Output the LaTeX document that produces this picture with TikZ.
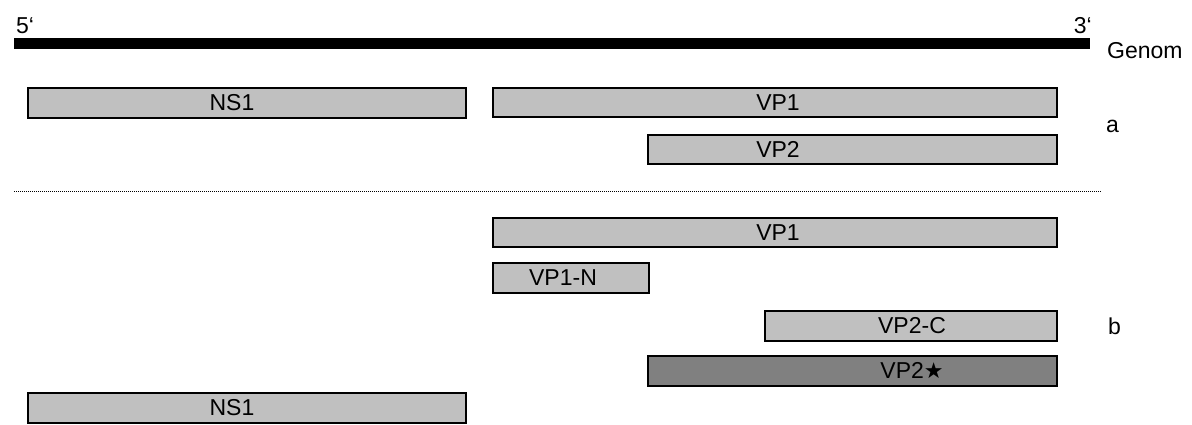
\documentclass[tikz,border=0pt]{standalone}
\usepackage{fontspec}
\setmainfont{Liberation Sans}
\newfontfamily\starfont{DejaVu Sans}
\begin{document}
\begin{tikzpicture}[x=1pt,y=-1pt,
  box/.style={draw=black,line width=1.6pt,fill=lightbox},
  darkbox/.style={draw=black,line width=1.6pt,fill=darkfill},
  lbl/.style={inner sep=0pt,font=\fontsize{23}{27}\selectfont},
]
\definecolor{lightbox}{RGB}{192,192,192}
\definecolor{darkfill}{RGB}{128,128,128}
\useasboundingbox (0,0) rectangle (1192,424);
% genome
\fill[black] (14,38) rectangle (1090,49);
\node[lbl,anchor=base west] (five) at (16,33) {5‘};
\node[lbl,anchor=base east] (three) at (1092,33) {3‘};
\node[lbl,anchor=west] (genom) at (1107,51) {Genom};
% section a
\draw[box] (28,88) rectangle (466,118);
\node[lbl] (ns1a) at (232,103) {NS1};
\draw[box] (493,88) rectangle (1057,117);
\node[lbl] (vp1a) at (778,102.5) {VP1};
\draw[box] (648,135) rectangle (1057,164);
\node[lbl] (vp2a) at (778,149.5) {VP2};
\node[lbl,anchor=west] (la) at (1106,126) {a};
% separator
\draw[line width=1pt,dash pattern=on 1pt off 1pt,black] (14,191) -- (1102,191);
% section b
\draw[box] (493,218) rectangle (1057,247);
\node[lbl] (vp1b) at (778,232.5) {VP1};
\draw[box] (493,263) rectangle (649,293);
\node[lbl] (vp1n) at (563,278) {VP1-N};
\draw[box] (765,311) rectangle (1057,341);
\node[lbl] (vp2c) at (912,326) {VP2-C};
\draw[darkbox] (648,356) rectangle (1057,386);
\node[lbl] (vp2s) at (912,371) {VP2{\starfont\fontsize{22}{26}\selectfont ★}};
\node[lbl,anchor=west] (lb) at (1108,326) {b};
\draw[box] (28,393) rectangle (466,423);
\node[lbl] (ns1b) at (232,408) {NS1};
\end{tikzpicture}
\end{document}
